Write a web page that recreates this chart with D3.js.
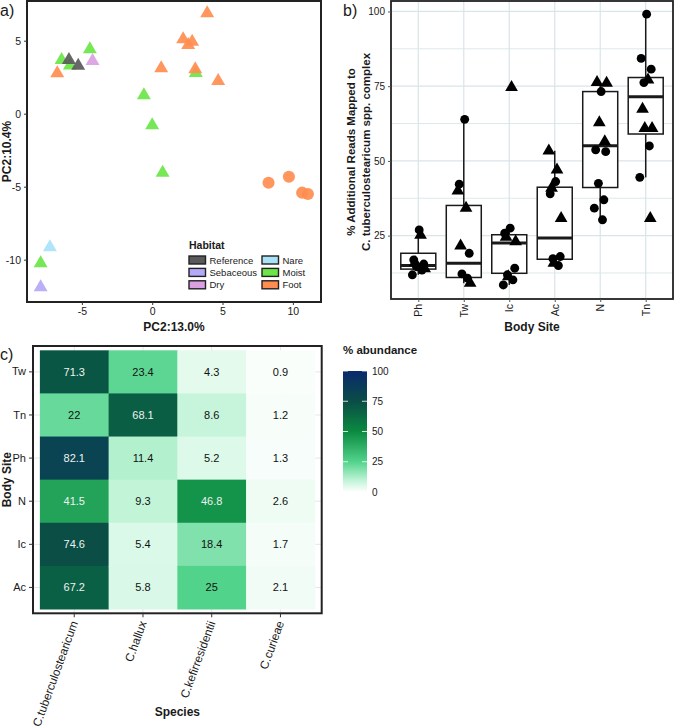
<!DOCTYPE html>
<html lang="en">
<head>
<meta charset="UTF-8">
<title>Figure</title>
<style>
body{margin:0;background:#fff}
text{font-family:"Liberation Sans",Arial,sans-serif;fill:#1a1a1a}
</style>
</head>
<body>
<svg width="675" height="728"></svg>
<script src="https://d3js.org/d3.v7.min.js"></script>
<script>
// ---------- data ----------
// a) PCA
const habitats = ["Reference", "Sebaceous", "Dry", "Nare", "Moist", "Foot"];
const habitatColors = ["#5a5a5a", "#b3a9f6", "#daa0e2", "#a9e2f7", "#6be646", "#ff8d4f"];
const pcaHabitat = ["Moist","Moist","Moist","Moist","Moist","Moist","Moist","Moist",
  "Nare","Sebaceous","Reference","Reference","Dry",
  "Foot","Foot","Foot","Foot","Foot","Foot","Foot","Foot",
  "Foot","Foot","Foot","Foot"];
const pcaShape = ["tri","tri","tri","tri","tri","tri","tri","tri",
  "tri","tri","tri","tri","tri",
  "tri","tri","tri","tri","tri","tri","tri","tri",
  "circle","circle","circle","circle"];
const pc1 = [-6.44, -5.85, -4.43, 3.1, -0.59, 0.0, 0.74, -7.93,
  -7.27, -7.93, -5.92, -5.26, -4.24,
  -6.75, 3.91, 2.2, 2.84, 2.56, 0.64, 3.06, 4.69,
  8.27, 9.72, 10.66, 11.07];
const pc2 = [3.68, 3.3, 4.41, 2.79, 1.26, -0.79, -4.04, -10.25,
  -9.15, -11.89, 3.68, 3.29, 3.61,
  2.77, 6.88, 5.1, 4.93, 4.7, 3.11, 3.04, 2.24,
  -4.73, -4.32, -5.41, -5.5];
const pcaTicks = [-10, -5, 0, 5, 10];

// b) reads mapped, by body site
const sites = ["Ph", "Tw", "Ic", "Ac", "N", "Tn"];
const boxQ1 = [13.8, 11.0, 12.4, 17.1, 41.1, 59.0];
const boxMedian = [15.0, 15.8, 22.5, 24.2, 55.1, 71.5];
const boxQ3 = [19.1, 35.1, 25.3, 41.2, 73.2, 77.9];
const whiskerLow = [11.9, 9.1, 8.5, 15.0, 30.3, 44.5];
const whiskerHigh = [26.9, 63.9, 27.5, 53.4, 76.3, 99.1];
const readSite = [
  "Ph","Ph","Ph","Ph","Ph","Ph","Ph","Ph","Ph",
  "Tw","Tw","Tw","Tw","Tw","Tw","Tw","Tw","Tw",
  "Ic","Ic","Ic","Ic","Ic","Ic","Ic","Ic","Ic","Ic",
  "Ac","Ac","Ac","Ac","Ac","Ac","Ac","Ac","Ac","Ac",
  "N","N","N","N","N","N","N","N","N","N","N",
  "Tn","Tn","Tn","Tn","Tn","Tn","Tn","Tn","Tn","Tn","Tn"];
const readValue = [
  26.9, 16.9, 15.5, 14.6, 13.5, 11.9, 25.2, 16.0, 14.0,
  63.9, 42.2, 19.1, 12.2, 10.8, 40.0, 34.2, 21.6, 9.1,
  27.5, 25.8, 14.1, 11.9, 10.2, 8.5, 74.6, 24.5, 23.0, 11.3,
  43.1, 39.0, 18.0, 17.3, 15.0, 53.4, 47.0, 40.9, 30.8, 15.8,
  73.2, 53.7, 53.1, 42.5, 37.0, 34.2, 30.3, 76.3, 76.0, 62.8, 56.5,
  99.1, 84.3, 80.7, 76.2, 55.0, 44.5, 77.1, 67.3, 60.9, 60.9, 30.8];
const readShape = [
  "c","c","c","c","c","c","t","t","t",
  "c","c","c","c","c","t","t","t","t",
  "c","c","c","c","c","c","t","t","t","t",
  "c","c","c","c","c","t","t","t","t","t",
  "c","c","c","c","c","c","c","t","t","t","t",
  "c","c","c","c","c","c","t","t","t","t","t"];
const readTicks = [25, 50, 75, 100];

// c) heatmap
const species = ["C.tuberculostearicum", "C.hallux", "C.kefirresidentii", "C.curieae"];
const heatSites = ["Tw", "Tn", "Ph", "N", "Ic", "Ac"];
const abTuberculostearicum = [71.3, 22, 82.1, 41.5, 74.6, 67.2];
const abHallux = [23.4, 68.1, 11.4, 9.3, 5.4, 5.8];
const abKefirresidentii = [4.3, 8.6, 5.2, 46.8, 18.4, 25];
const abCurieae = [0.9, 1.2, 1.3, 2.6, 1.7, 2.1];
const legendTicks = [0, 25, 50, 75, 100];

const svg = d3.select("svg");

function panelLabel(x, y, t) {
  svg.append("text").attr("x", x).attr("y", y).attr("font-size", 16).text(t);
}

// ================= a) =================
{
  const L = 27, R = 321, T = 1, B = 302;
  const x = d3.scaleLinear().domain([-8.9, 12.0]).range([L, R]);
  const y = d3.scaleLinear().domain([-12.9, 7.72]).range([B, T]);
  const color = d3.scaleOrdinal(habitats, habitatColors);
  const g = svg.append("g");

  const pts = pc1.map((v, i) => ({x: v, y: pc2[i], h: pcaHabitat[i], s: pcaShape[i]}));
  g.selectAll("path.pt").data(pts).join("path")
    .attr("class", "pt")
    .attr("transform", d => `translate(${x(d.x)},${y(d.y)})`)
    .attr("d", d => d3.symbol(d.s === "tri" ? d3.symbolTriangle : d3.symbolCircle, d.s === "tri" ? 84 : 115)())
    .attr("fill", d => color(d.h))
    .attr("opacity", 0.92);

  g.append("rect").attr("x", L).attr("y", T).attr("width", R - L).attr("height", B - T)
    .attr("fill", "none").attr("stroke", "#222").attr("stroke-width", 2);

  const ax = g.append("g").attr("transform", `translate(0,${B})`)
    .call(d3.axisBottom(x).tickValues(pcaTicks.filter(t => t > -9)).tickSize(3).tickFormat(d3.format("d")));
  const ay = g.append("g").attr("transform", `translate(${L},0)`)
    .call(d3.axisLeft(y).tickValues(pcaTicks).tickSize(3).tickFormat(d3.format("d")));
  [ax, ay].forEach(a => {
    a.select(".domain").remove();
    a.selectAll(".tick line").attr("stroke", "#333");
    a.selectAll(".tick text").attr("font-size", 10.5).attr("fill", "#222");
  });
  ax.selectAll(".tick text").text(d => d < 0 ? "-" + Math.abs(d) : d);
  ay.selectAll(".tick text").text(d => d < 0 ? "-" + Math.abs(d) : d);

  g.append("text").attr("x", (L + R) / 2).attr("y", 331).attr("text-anchor", "middle")
    .attr("font-size", 12).attr("font-weight", "bold").text("PC2:13.0%");
  g.append("text").attr("transform", `translate(11,${(T + B) / 2}) rotate(-90)`)
    .attr("text-anchor", "middle").attr("font-size", 12).attr("font-weight", "bold").text("PC2:10.4%");

  // legend
  const lg = g.append("g");
  lg.append("text").attr("x", 189).attr("y", 249).attr("font-size", 10.5).attr("font-weight", "bold").text("Habitat");
  habitats.forEach((h, i) => {
    const col = Math.floor(i / 3), row = i % 3;
    const kx = 189 + col * 73, ky = 256 + row * 12.4;
    lg.append("rect").attr("x", kx).attr("y", ky).attr("width", 16.5).attr("height", 8)
      .attr("fill", color(h)).attr("stroke", "#222").attr("stroke-width", 1.4);
    lg.append("text").attr("x", kx + 20.5).attr("y", ky + 7.5).attr("font-size", 9.5).attr("fill", "#222").text(h);
  });
  panelLabel(0, 16, "a)");
}

// ================= b) =================
{
  const L = 391, R = 673, T = 1, B = 299;
  const x = d3.scalePoint().domain(sites).range([L, R]).padding(0.6);
  const y = d3.scaleLinear().domain([3.8, 103.5]).range([B, T]);
  const g = svg.append("g");
  const grid = "#d9e5e7";

  const minor = [12.5, 37.5, 62.5, 87.5];
  g.selectAll("line.gy").data(readTicks.concat(minor)).join("line")
    .attr("x1", L).attr("x2", R).attr("y1", d => y(d)).attr("y2", d => y(d))
    .attr("stroke", grid).attr("stroke-width", d => minor.includes(d) ? 0.9 : 1.2);
  g.selectAll("line.gx").data(sites).join("line")
    .attr("x1", d => x(d)).attr("x2", d => x(d)).attr("y1", T).attr("y2", B)
    .attr("stroke", grid).attr("stroke-width", 1.2);

  const bw = 35;
  const boxes = sites.map((s, i) => ({s, q1: boxQ1[i], med: boxMedian[i], q3: boxQ3[i], lo: whiskerLow[i], hi: whiskerHigh[i]}));
  const bg = g.selectAll("g.box").data(boxes).join("g").attr("class", "box");
  bg.append("line").attr("x1", d => x(d.s)).attr("x2", d => x(d.s))
    .attr("y1", d => y(d.hi)).attr("y2", d => y(d.q3)).attr("stroke", "#1a1a1a").attr("stroke-width", 1.5);
  bg.append("line").attr("x1", d => x(d.s)).attr("x2", d => x(d.s))
    .attr("y1", d => y(d.q1)).attr("y2", d => y(d.lo)).attr("stroke", "#1a1a1a").attr("stroke-width", 1.5);
  bg.append("rect").attr("x", d => x(d.s) - bw / 2).attr("width", bw)
    .attr("y", d => y(d.q3)).attr("height", d => y(d.q1) - y(d.q3))
    .attr("fill", "#fff").attr("stroke", "#1a1a1a").attr("stroke-width", 1.5);
  bg.append("line").attr("x1", d => x(d.s) - bw / 2).attr("x2", d => x(d.s) + bw / 2)
    .attr("y1", d => y(d.med)).attr("y2", d => y(d.med)).attr("stroke", "#1a1a1a").attr("stroke-width", 3);

  // small fixed jitter pattern (fraction of step)
  const jit = [0.02, -0.1, 0.12, -0.04, 0.08, -0.13, 0.05, -0.07, 0.14, -0.02, 0.1];
  const count = {};
  const pts = readValue.map((v, i) => {
    const s = readSite[i];
    count[s] = (count[s] || 0);
    const j = jit[count[s]++ % jit.length];
    return {s, v, shape: readShape[i], j};
  });
  g.selectAll("path.rp").data(pts).join("path").attr("class", "rp")
    .attr("transform", d => `translate(${x(d.s) + d.j * x.step()},${y(d.v)})`)
    .attr("d", d => d3.symbol(d.shape === "t" ? d3.symbolTriangle : d3.symbolCircle, d.shape === "t" ? 70 : 62)())
    .attr("fill", "#000");

  g.append("rect").attr("x", L).attr("y", T).attr("width", R - L).attr("height", B - T)
    .attr("fill", "none").attr("stroke", "#222").attr("stroke-width", 1.8);

  const ay = g.append("g").attr("transform", `translate(${L},0)`)
    .call(d3.axisLeft(y).tickValues(readTicks).tickSize(3));
  ay.select(".domain").remove();
  ay.selectAll(".tick line").attr("stroke", "#555");
  ay.selectAll(".tick text").attr("font-size", 10).attr("fill", "#222");

  const ax = g.append("g").attr("transform", `translate(0,${B})`)
    .call(d3.axisBottom(x).tickSize(3));
  ax.select(".domain").remove();
  ax.selectAll(".tick line").attr("stroke", "#555");
  ax.selectAll(".tick text").attr("font-size", 10.5).attr("fill", "#222")
    .attr("transform", "rotate(-90)").attr("text-anchor", "end")
    .attr("x", -5).attr("y", 0).attr("dy", "0.35em");

  g.append("text").attr("x", (L + R) / 2).attr("y", 331).attr("text-anchor", "middle")
    .attr("font-size", 12).attr("font-weight", "bold").text("Body Site");
  const yl = g.append("text").attr("transform", `translate(0,${(T + B) / 2 + 2}) rotate(-90)`)
    .attr("text-anchor", "middle").attr("font-size", 11.5).attr("font-weight", "bold");
  yl.append("tspan").attr("x", 0).attr("y", 355).text("% Additional Reads Mapped to");
  yl.append("tspan").attr("x", 0).attr("y", 370).text("C. tuberculostearicum spp. complex");

  panelLabel(343, 16, "b)");
}

// ================= c) =================
{
  const L = 33, R = 321.7, T = 346, B = 613.3;
  const x = d3.scaleBand().domain(species).range([L, R]).paddingOuter(0.1).paddingInner(0);
  const y = d3.scaleBand().domain(heatSites).range([T, B]).paddingOuter(0.1).paddingInner(0);
  const fill = d3.scaleLinear()
    .domain([0, 10, 25, 50, 75, 100])
    .range(["#ffffff", "#bdf3d5", "#52d38b", "#0b8a40", "#0a4d46", "#0a2a6e"])
    .clamp(true);
  const cols = [abTuberculostearicum, abHallux, abKefirresidentii, abCurieae];
  const cells = [];
  species.forEach((sp, i) => heatSites.forEach((st, k) => cells.push({sp, st, v: cols[i][k]})));

  const g = svg.append("g");
  g.selectAll("line.gx").data(species).join("line")
    .attr("x1", d => x(d) + x.bandwidth() / 2).attr("x2", d => x(d) + x.bandwidth() / 2)
    .attr("y1", T).attr("y2", B).attr("stroke", "#e6e6e6");
  g.selectAll("line.gy").data(heatSites).join("line")
    .attr("y1", d => y(d) + y.bandwidth() / 2).attr("y2", d => y(d) + y.bandwidth() / 2)
    .attr("x1", L).attr("x2", R).attr("stroke", "#e6e6e6");

  g.selectAll("rect.cell").data(cells).join("rect").attr("class", "cell")
    .attr("x", d => x(d.sp)).attr("y", d => y(d.st))
    .attr("width", x.bandwidth() + 0.5).attr("height", y.bandwidth() + 0.5)
    .attr("fill", d => fill(d.v));
  g.selectAll("text.cv").data(cells).join("text").attr("class", "cv")
    .attr("x", d => x(d.sp) + x.bandwidth() / 2).attr("y", d => y(d.st) + y.bandwidth() / 2)
    .attr("dy", "0.36em").attr("text-anchor", "middle").attr("font-size", 11)
    .style("fill", d => d.v > 40 ? "#eef2f0" : "#111")
    .text(d => String(d.v));

  g.append("rect").attr("x", L).attr("y", T).attr("width", R - L).attr("height", B - T)
    .attr("fill", "none").attr("stroke", "#222").attr("stroke-width", 2);

  const ay = g.append("g").attr("transform", `translate(${L},0)`)
    .call(d3.axisLeft(y).tickSize(4));
  ay.select(".domain").remove();
  ay.selectAll(".tick line").attr("stroke", "#333");
  ay.selectAll(".tick text").attr("font-size", 11).attr("fill", "#222");

  const ax = g.append("g").attr("transform", `translate(0,${B})`)
    .call(d3.axisBottom(x).tickSize(4));
  ax.select(".domain").remove();
  ax.selectAll(".tick line").attr("stroke", "#333");
  ax.selectAll(".tick text").attr("font-size", 11.8).attr("fill", "#222")
    .attr("text-anchor", "end").attr("x", 0).attr("y", 0).attr("dy", "0.35em")
    .attr("transform", "translate(0,8) rotate(-70)");

  g.append("text").attr("x", (L + R) / 2).attr("y", 716).attr("text-anchor", "middle")
    .attr("font-size", 12).attr("font-weight", "bold").text("Species");
  g.append("text").attr("transform", `translate(11,${(T + B) / 2}) rotate(-90)`)
    .attr("text-anchor", "middle").attr("font-size", 12).attr("font-weight", "bold").text("Body Site");

  // colour bar legend
  const lx = 343, lw = 24, lt = 371, lb = 492;
  const ly = d3.scaleLinear().domain([0, 100]).range([lb, lt]);
  const grad = svg.append("defs").append("linearGradient").attr("id", "abund")
    .attr("x1", 0).attr("y1", 1).attr("x2", 0).attr("y2", 0);
  d3.range(0, 101, 5).forEach(v => grad.append("stop").attr("offset", v / 100).attr("stop-color", fill(v)));
  g.append("rect").attr("x", lx).attr("y", lt).attr("width", lw).attr("height", lb - lt).attr("fill", "url(#abund)");
  g.append("text").attr("x", lx).attr("y", 354).attr("font-size", 11.5).attr("font-weight", "bold").text("% abundance");
  legendTicks.forEach(t => {
    g.append("line").attr("x1", lx).attr("x2", lx + 5).attr("y1", ly(t)).attr("y2", ly(t)).attr("stroke", "#fff").attr("stroke-opacity", 0.8);
    g.append("line").attr("x1", lx + lw - 5).attr("x2", lx + lw).attr("y1", ly(t)).attr("y2", ly(t)).attr("stroke", "#fff").attr("stroke-opacity", 0.8);
    g.append("text").attr("x", lx + lw + 5).attr("y", ly(t)).attr("dy", "0.35em").attr("font-size", 10).attr("fill", "#222").text(t);
  });

  panelLabel(0, 360, "c)");
}
</script>
</body>
</html>
